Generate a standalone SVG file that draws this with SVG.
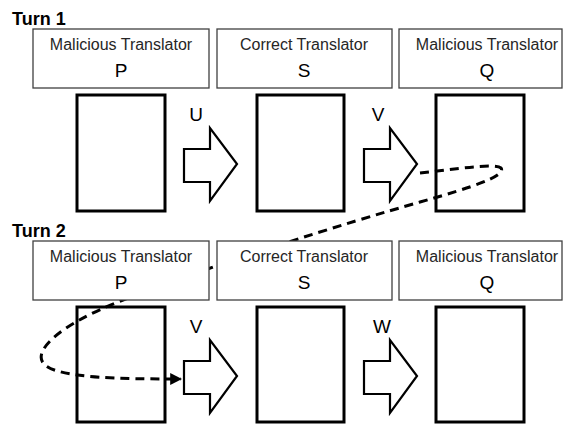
<svg xmlns="http://www.w3.org/2000/svg" width="566" height="424" viewBox="0 0 566 424">
<defs>
<style>
.hdr{fill:#fff;stroke:#404040;stroke-width:1.3}
.doc{fill:#fff;stroke:#000;stroke-width:3}
.arr{fill:#fff;stroke:#000;stroke-width:2.2;stroke-linejoin:miter}
.role{font-family:"Liberation Sans",Arial,sans-serif;font-size:16px;fill:#262626;text-anchor:middle}
.id{font-family:"Liberation Sans",Arial,sans-serif;font-size:19px;fill:#000;text-anchor:middle}
.lbl{font-family:"Liberation Sans",Arial,sans-serif;font-size:19px;fill:#000;text-anchor:middle}
.turn{font-family:"Liberation Sans",Arial,sans-serif;font-size:18px;font-weight:bold;fill:#000}
.dash{fill:none;stroke:#000;stroke-width:3;stroke-dasharray:9 6}
</style>
<marker id="ah" viewBox="0 0 10 10" refX="9" refY="5" markerWidth="4" markerHeight="4" orient="auto" markerUnits="strokeWidth">
<path d="M0,0 L10,5 L0,10 z" fill="#000"/>
</marker>
<path id="bigarrow" d="M0,-15 L26,-15 L26,-36 L53,0 L26,37 L26,18 L0,18 Z"/>
</defs>

<text class="turn" x="12" y="25">Turn 1</text>
<text class="turn" x="12" y="237">Turn 2</text>

<g id="t1-p-doc"><rect class="doc" x="77" y="95" width="88" height="116"/></g>
<g id="t1-s-doc"><rect class="doc" x="257" y="95" width="87" height="116"/></g>
<g id="t1-q-doc"><rect class="doc" x="436" y="95" width="88" height="116"/></g>
<g id="t2-p-doc"><rect class="doc" x="77" y="307" width="88" height="115"/></g>
<g id="t2-s-doc"><rect class="doc" x="257" y="307" width="87" height="115"/></g>
<g id="t2-q-doc"><rect class="doc" x="436" y="307" width="88" height="115"/></g>

<g id="arrows">
<use href="#bigarrow" class="arr" x="184" y="164"/>
<text class="lbl" x="196" y="121">U</text>
<use href="#bigarrow" class="arr" x="364" y="164"/>
<text class="lbl" x="378" y="121">V</text>
<use href="#bigarrow" class="arr" x="184" y="376"/>
<text class="lbl" x="196" y="333">V</text>
<use href="#bigarrow" class="arr" x="364" y="376"/>
<text class="lbl" x="382" y="333">W</text>
</g>

<g id="connectors">
<path class="dash" marker-end="url(#ah)" d="M420,173 C455,169 495,163 501,168 C507,176 470,188 420,202 C340,225 220,262 118,302 C60,325 30,352 45,365 C60,378 120,379 181,379"/>
</g>

<g id="t1-p">
<rect class="hdr" x="33" y="29" width="176" height="59"/>
<text class="role" x="121" y="50">Malicious Translator</text>
<text class="id" x="121" y="77">P</text>
</g>
<g id="t1-s">
<rect class="hdr" x="217" y="29" width="175" height="59"/>
<text class="role" x="304" y="50">Correct Translator</text>
<text class="id" x="304" y="77">S</text>
</g>
<g id="t1-q">
<rect class="hdr" x="399" y="29" width="163" height="59"/>
<text class="role" x="487" y="50">Malicious Translator</text>
<text class="id" x="487" y="77">Q</text>
</g>
<g id="t2-p">
<rect class="hdr" x="33" y="241" width="176" height="59"/>
<text class="role" x="121" y="262">Malicious Translator</text>
<text class="id" x="121" y="289">P</text>
</g>
<g id="t2-s">
<rect class="hdr" x="217" y="241" width="175" height="59"/>
<text class="role" x="304" y="262">Correct Translator</text>
<text class="id" x="304" y="289">S</text>
</g>
<g id="t2-q">
<rect class="hdr" x="399" y="241" width="163" height="59"/>
<text class="role" x="487" y="262">Malicious Translator</text>
<text class="id" x="487" y="289">Q</text>
</g>
</svg>
